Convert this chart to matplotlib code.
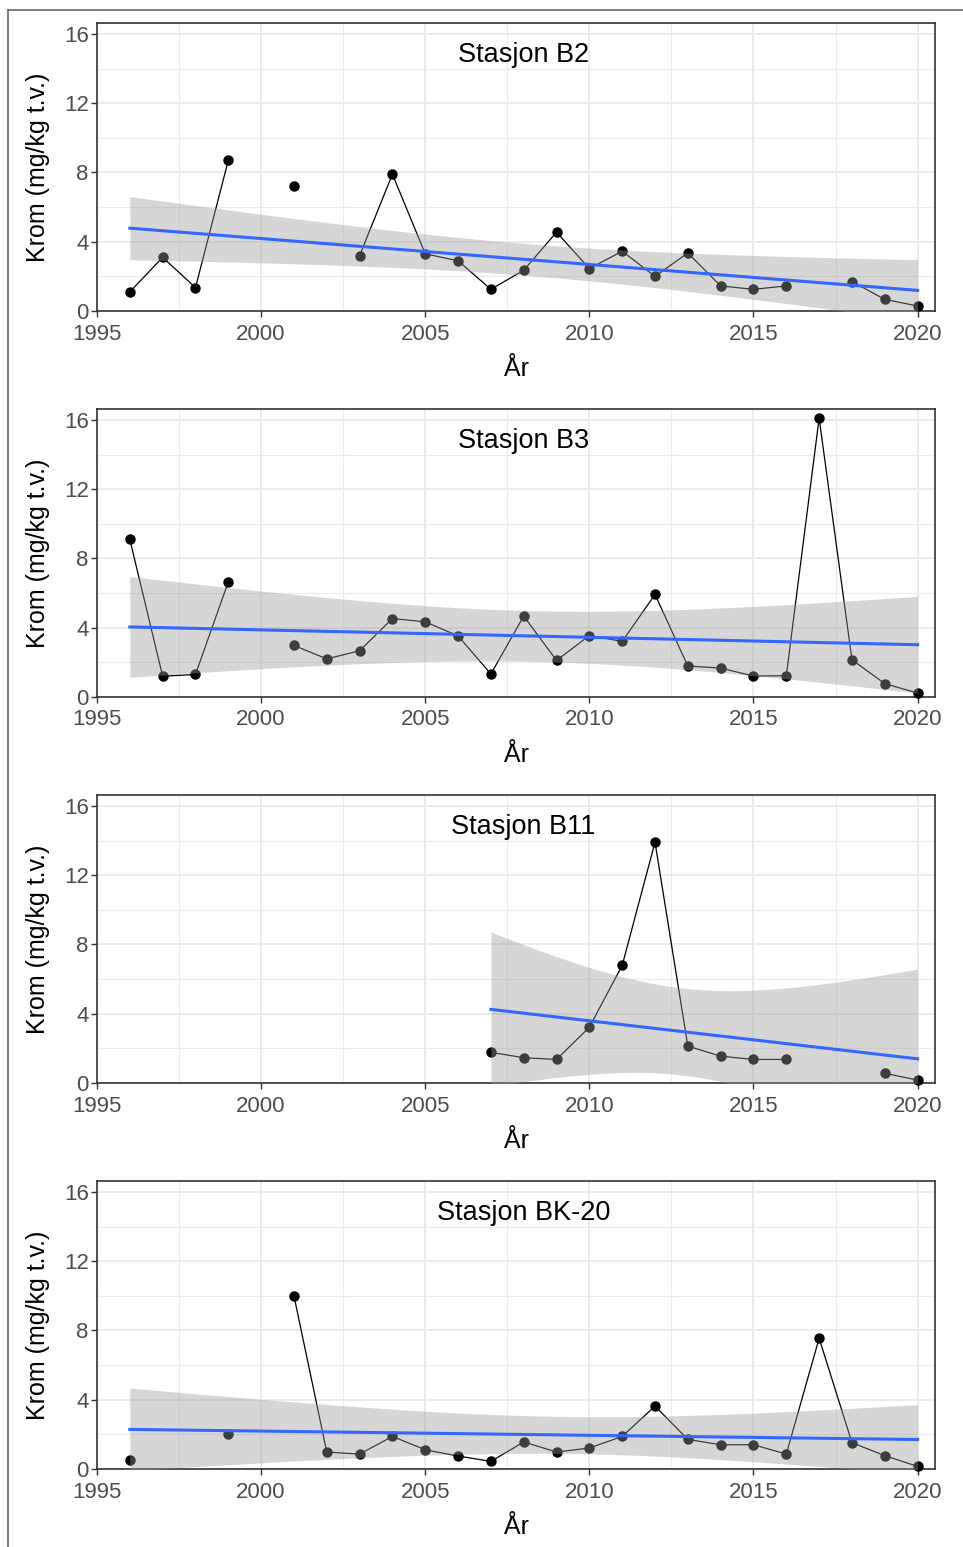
"""Krom i sediment ved fire stasjoner, 1996-2020, med lineær trend og 95 % konfidensbånd."""

from math import gamma, pi, sqrt

import matplotlib
matplotlib.use("Agg")
import matplotlib.pyplot as plt
import numpy as np
from matplotlib.lines import Line2D

plt.rcParams["font.family"] = ["Liberation Sans", "DejaVu Sans"]

YEARS = list(range(1996, 2021))
NA = np.nan

B2 = [1.1, 3.1, 1.35, 8.7, NA, 7.2, NA, 3.2, 7.9, 3.3, 2.9, 1.25, 2.35,
      4.55, 2.45, 3.45, 2.0, 3.35, 1.45, 1.25, 1.45, NA, 1.7, 0.67, 0.29]
B3 = [9.1, 1.2, 1.3, 6.65, NA, 2.98, 2.2, 2.67, 4.53, 4.34, 3.53, 1.33, 4.67,
      2.11, 3.55, 3.21, 5.92, 1.79, 1.67, 1.21, 1.23, 16.1, 2.15, 0.77, 0.23]
B11 = [NA, NA, NA, NA, NA, NA, NA, NA, NA, NA, NA, 1.77, 1.46,
       1.36, 3.22, 6.79, 13.9, 2.13, 1.55, 1.36, 1.36, NA, NA, 0.56, 0.17]
BK20 = [0.54, NA, NA, 2.0, NA, 10.0, 0.98, 0.86, 1.88, 1.11, 0.75, 0.44, 1.56,
        0.98, 1.21, 1.88, 3.63, 1.71, 1.40, 1.40, 0.86, 7.55, 1.52, 0.77, 0.15]

STATIONS = ["Stasjon B2", "Stasjon B3", "Stasjon B11", "Stasjon BK-20"]
SERIES = [B2, B3, B11, BK20]

X_TICKS = [1995, 2000, 2005, 2010, 2015, 2020]
Y_TICKS = [0, 4, 8, 12, 16]

GRID = "#EBEBEB"
DARK = "#333333"
TICK_TXT = "#4D4D4D"


def t_quantile(p: float, df: int) -> float:
    """Kvantil i t-fordelingen via numerisk integrasjon (ingen scipy)."""
    x = np.linspace(0, 12, 120001)
    c = gamma((df + 1) / 2) / (sqrt(df * pi) * gamma(df / 2))
    pdf = c * (1 + x ** 2 / df) ** (-(df + 1) / 2)
    cdf = 0.5 + np.concatenate([[0], np.cumsum((pdf[1:] + pdf[:-1]) / 2 * np.diff(x))])
    return float(np.interp(p, cdf, x))


def lm_band(x, y, n_grid=80):
    """Lineær regresjon med 95 % konfidensintervall, som geom_smooth(method='lm')."""
    n = len(x)
    slope, intercept = np.polyfit(x, y, 1)
    resid = y - (intercept + slope * x)
    s = np.sqrt(np.sum(resid ** 2) / (n - 2))
    xg = np.linspace(x.min(), x.max(), n_grid)
    fit = intercept + slope * xg
    se = s * np.sqrt(1 / n + (xg - x.mean()) ** 2 / np.sum((x - x.mean()) ** 2))
    t = t_quantile(0.975, n - 2)
    return xg, fit, fit - t * se, fit + t * se


def draw_panel(ax, name, values):
    years = np.array(YEARS, dtype=float)
    vals = np.array(values, dtype=float)
    ok = ~np.isnan(vals)

    ax.plot(years, vals, color="black", lw=0.9, zorder=3)
    ax.plot(years[ok], vals[ok], "o", color="black", ms=6.5, zorder=3, clip_on=False)

    xg, fit, lo, hi = lm_band(years[ok], vals[ok])
    ax.fill_between(xg, lo, hi, color="#999999", alpha=0.4, lw=0, zorder=4)
    ax.plot(xg, fit, color="#3366FF", lw=2.2, zorder=5)

    ax.text(2008, 14.8, name, ha="center", va="center", fontsize=19.5, color="black")

    ax.set_xlim(1995, 2020.53)
    ax.set_ylim(0, 16.63)
    ax.set_xticks(X_TICKS)
    ax.set_yticks(Y_TICKS)
    ax.set_xticks(np.arange(1997.5, 2020, 5), minor=True)
    ax.set_yticks([2, 6, 10, 14], minor=True)
    ax.grid(which="major", color=GRID, lw=1.4, zorder=0)
    ax.grid(which="minor", color=GRID, lw=0.8, zorder=0)
    ax.set_axisbelow(True)
    ax.tick_params(which="major", length=4, width=1, color=DARK,
                   labelsize=16, labelcolor=TICK_TXT, pad=2)
    ax.tick_params(axis="x", which="major", pad=5)
    ax.tick_params(which="minor", length=0)
    for sp in ax.spines.values():
        sp.set_color(DARK)
        sp.set_linewidth(1.2)
    ax.set_xlabel("År", fontsize=18, labelpad=9)
    ax.set_ylabel("Krom (mg/kg t.v.)", fontsize=18, labelpad=10)


def main() -> None:
    fig = plt.figure(figsize=(9.63, 15.47), dpi=100)
    left, width, height = 97 / 963, 838 / 963, 288 / 1547
    bottoms = [1 - 311 / 1547, 1 - 697 / 1547, 1 - 1083 / 1547, 1 - 1469 / 1547]
    for name, values, b in zip(STATIONS, SERIES, bottoms):
        ax = fig.add_axes([left, b, width, height])
        draw_panel(ax, name, values)

    # ramme fra skjermbildet (bare topp og venstre kant er synlig)
    fx, fy = 8 / 963, 1 - 10 / 1547
    fig.add_artist(Line2D([fx, 1], [fy, fy], color="#666666", lw=1.2))
    fig.add_artist(Line2D([fx, fx], [0, fy], color="#666666", lw=1.2))

    fig.savefig("out.png", dpi=100)


if __name__ == "__main__":
    main()
